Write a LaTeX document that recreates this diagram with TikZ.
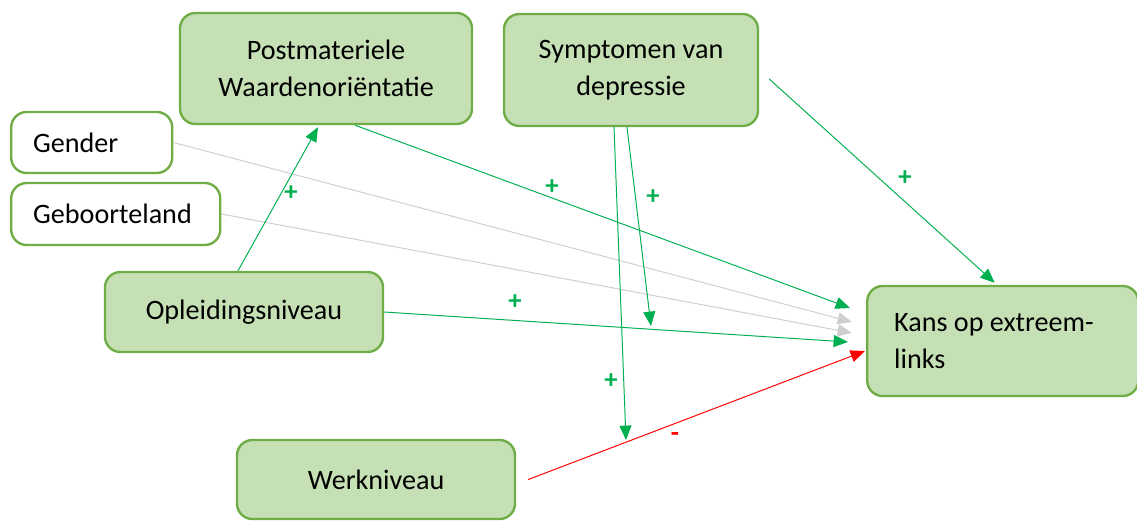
\documentclass[tikz,border=0pt]{standalone}
\usepackage{fontspec}
\setmainfont{Carlito}
\usetikzlibrary{arrows.meta,calc}
\definecolor{vakrand}{HTML}{70AD47}
\definecolor{vakvul}{HTML}{C5E0B4}
\definecolor{pijlgroen}{HTML}{00B050}
\definecolor{pijlgrijs}{HTML}{CFCFCF}
\definecolor{pijlrood}{HTML}{FF0000}
\begin{document}
\begin{tikzpicture}[x=0.025cm,y=-0.025cm]
\tikzset{vak/.style={draw=vakrand,line width=1.7pt,rounded corners=11pt,inner sep=0pt,font=\fontsize{20}{26.5}\selectfont},
vol/.style={vak,fill=vakvul,align=center},
leeg/.style={vak,fill=white,align=flush left,anchor=west,inner xsep=0.55cm},
pijl/.style={-{Triangle[length=0.36cm,width=0.3cm]},line width=0.7pt,draw=pijlgroen},
teken/.style={text=pijlgroen,font=\fontsize{19}{19}\bfseries\selectfont}}
\useasboundingbox (0,0) rectangle (1137,520);
\node[vol,minimum width=7.3cm,minimum height=2.775cm] (postmat) at (326,68.5) {Postmateriele\\Waardenoriëntatie};
\node[vol,minimum width=6.35cm,minimum height=2.8cm] (sympt) at (631,70) {Symptomen van\\depressie};
\node[leeg,text width=2.925cm,minimum height=1.525cm] (gender) at (10,142.5) {Gender};
\node[leeg,text width=4.125cm,minimum height=1.55cm] (geboorte) at (10,214) {Geboorteland};
\node[vol,minimum width=6.95cm,minimum height=2cm] (opleiding) at (244,312) {Opleidingsniveau};
\node[vol,minimum width=6.95cm,minimum height=1.975cm] (werk) at (376,479.5) {Werkniveau};
\node[vak,fill=vakvul,align=flush left,anchor=west,inner xsep=0.675cm,text width=5.425cm,minimum height=2.75cm] (kans) at (866,341) {Kans op extreem-\\links};
\coordinate (werkpunt) at (626,440);
\coordinate (opleidpunt) at (651,326);
\draw[pijl,draw=pijlgrijs] (gender.east) -- ($(kans.west)+(-14,-19)$);
\draw[pijl,draw=pijlgrijs] (geboorte.east) -- ($(kans.west)+(-14,-8)$);
\draw[pijl] ($(opleiding.north)+(-6,0)$) -- ($(postmat.south)+(-8,2)$) node[teken] at (291,193) {+};
\draw[pijl] ($(postmat.south)+(29,0)$) -- ($(kans.west)+(-16,-33)$) node[teken] at (552,187) {+};
\draw[pijl] (opleiding.east) -- ($(kans.west)+(-18,1)$) node[teken] at (515,302) {+};
\draw[pijl,draw=pijlrood] ($(werk.east)+(12,0)$) -- ($(kans.west)+(-1,10)$) node[teken,text=pijlrood] at (675,437) {-};
\draw[pijl] ($(sympt.south)+(-17,0)$) -- (werkpunt) node[teken] at (611,381) {+};
\draw[pijl] ($(sympt.south)+(-4,0)$) -- (opleidpunt) node[teken] at (653,197) {+};
\draw[pijl] ($(sympt.east)+(10,9)$) -- ($(kans.north)+(-8,-2)$) node[teken] at (905,178) {+};
\end{tikzpicture}
\end{document}
